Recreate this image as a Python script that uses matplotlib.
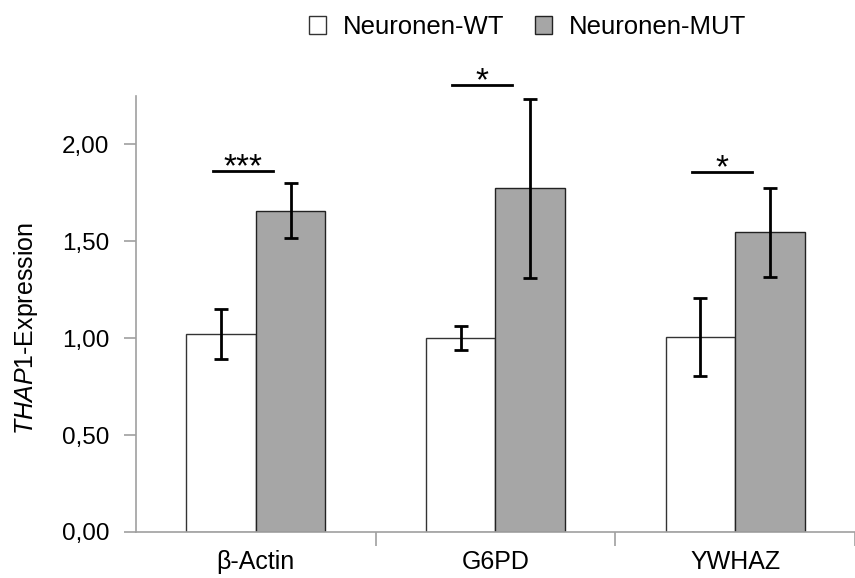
import numpy as np
import matplotlib.pyplot as plt
from matplotlib.ticker import FuncFormatter

plt.rcParams['font.family'] = ['Liberation Sans', 'DejaVu Sans']
plt.rcParams['mathtext.fontset'] = 'custom'
plt.rcParams['mathtext.rm'] = 'Liberation Sans'
plt.rcParams['mathtext.it'] = 'Liberation Sans:italic'

genes = ['β-Actin', 'G6PD', 'YWHAZ']
wt = [1.02, 1.00, 1.005]
wt_err = [0.128, 0.062, 0.20]
mut = [1.657, 1.772, 1.545]
mut_err = [0.141, 0.462, 0.23]
stars = ['***', '*', '*']
sig_y = [1.862, 2.305, 1.858]

fig = plt.figure(figsize=(8.55, 5.78), dpi=100)
ax = fig.add_axes([0.159, 0.0796, 0.841, 0.755])

x = np.arange(len(genes))
w = 0.29
ax.bar(x - w/2, wt, w, color='white', edgecolor='#333333', linewidth=1.0,
       label='Neuronen-WT', zorder=2)
ax.bar(x + w/2, mut, w, color='#a6a6a6', edgecolor='#222222', linewidth=1.0,
       label='Neuronen-MUT', zorder=2)
ek = dict(fmt='none', ecolor='black', elinewidth=2, capsize=5, capthick=2, zorder=3)
ax.errorbar(x - w/2, wt, yerr=wt_err, **ek)
ax.errorbar(x + w/2, mut, yerr=mut_err, **ek)

for xi, s, yy in zip(x, stars, sig_y):
    ax.plot([xi - 0.18, xi + 0.07], [yy, yy], color='black', lw=2, clip_on=False)
    ax.text(xi - 0.055, yy - 0.064, s, ha='center', va='bottom', fontsize=24,
            clip_on=False)

ax.set_xlim(-0.5, 2.459)
ax.set_ylim(0, 2.25)
ax.set_yticks([0, 0.5, 1.0, 1.5, 2.0])
ax.yaxis.set_major_formatter(FuncFormatter(lambda v, p: f'{v:.2f}'.replace('.', ',')))
ax.set_xticks(x)
ax.set_xticklabels(genes, fontsize=18)
ax.set_xticks([0.5, 1.5, 2.5], minor=True)
ax.tick_params(axis='x', which='major', length=0, pad=13)
ax.tick_params(axis='x', which='minor', length=10, color='#a0a0a0', width=1.2)
ax.tick_params(axis='y', length=9, color='#a0a0a0', width=1.2, labelsize=17.5, pad=10)

for side in ['top', 'right']:
    ax.spines[side].set_visible(False)
for side in ['left', 'bottom']:
    ax.spines[side].set_color('#a0a0a0')
    ax.spines[side].set_linewidth(1.2)

fig.text(26/855, 0.4325, '$\\mathit{THAP1}$-Expression', fontsize=18, rotation=90,
         ha='center', va='center')

fig.legend(loc='center', bbox_to_anchor=(0.617, 0.953), ncol=2, frameon=False,
           fontsize=18.5, handlelength=0.66, handleheight=0.66, handletextpad=0.66,
           columnspacing=1.2)

fig.savefig('out.png', dpi=100)
